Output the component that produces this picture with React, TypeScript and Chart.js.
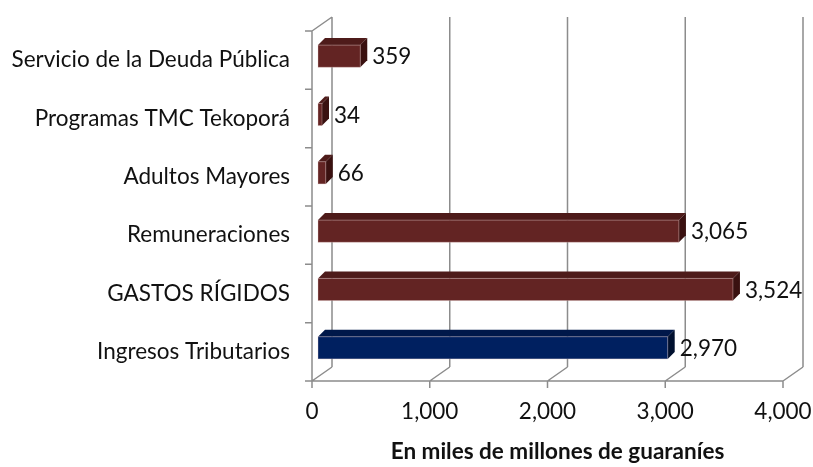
import React, { useEffect, useRef } from "react";
import { Chart, registerables } from "chart.js";

Chart.register(...registerables);

const categories = [
  "Servicio de la Deuda Pública",
  "Programas TMC Tekoporá",
  "Adultos Mayores",
  "Remuneraciones",
  "GASTOS RÍGIDOS",
  "Ingresos Tributarios",
];
const values = [359, 34, 66, 3065, 3524, 2970];
const frontColors = ["#632423", "#632423", "#632423", "#632423", "#632423", "#002060"];
const topColors = ["#4e1b1a", "#4e1b1a", "#4e1b1a", "#4e1b1a", "#4e1b1a", "#00184a"];
const sideColors = ["#3a1110", "#3a1110", "#3a1110", "#3a1110", "#3a1110", "#00102f"];
const xTicks = [0, 1000, 2000, 3000, 4000];
const axisTitle = "En miles de millones de guaraníes";

const FONT = "Lato, 'Open Sans', sans-serif";
const FONT_SIZE = 22.5;
const WALL = { dx: 20, dy: -14 };
const BAR_FRONT = { dx: 6, dy: -4 };
const BAR_DEPTH = { dx: 7, dy: -7 };
const GRID = "#8c8c8c";

const frame3d = {
  id: "frame3d",
  beforeDatasetsDraw(chart: any) {
    const { ctx, chartArea, scales } = chart;
    const xs = scales.x;
    const ys = scales.y;
    const { left, right, top, bottom } = chartArea;
    ctx.save();
    ctx.strokeStyle = GRID;
    ctx.lineWidth = 1.5;
    ctx.beginPath();
    ctx.moveTo(left, top);
    ctx.lineTo(left, bottom);
    ctx.moveTo(left, top);
    ctx.lineTo(left + WALL.dx, top + WALL.dy);
    ctx.moveTo(left, bottom);
    ctx.lineTo(right, bottom);
    xTicks.forEach((t) => {
      const px = xs.getPixelForValue(t);
      ctx.moveTo(px + WALL.dx, top + WALL.dy);
      ctx.lineTo(px + WALL.dx, bottom + WALL.dy);
      ctx.moveTo(px, bottom);
      ctx.lineTo(px + WALL.dx, bottom + WALL.dy);
      ctx.moveTo(px, bottom);
      ctx.lineTo(px, bottom + 7);
    });
    const n = categories.length;
    const step = (bottom - top) / n;
    for (let i = 0; i <= n; i++) {
      const py = ys.top + step * i;
      ctx.moveTo(left - 7, py);
      ctx.lineTo(left, py);
    }
    ctx.stroke();
    ctx.restore();
  },
  afterDatasetsDraw(chart: any) {
    const { ctx, chartArea } = chart;
    const meta = chart.getDatasetMeta(0);
    ctx.save();
    meta.data.forEach((bar: any, i: number) => {
      const p = bar.getProps(["x", "y", "base", "height"], true);
      const L = p.base + BAR_FRONT.dx;
      const R = p.x + BAR_FRONT.dx;
      const T = p.y - p.height / 2 + BAR_FRONT.dy;
      const B = p.y + p.height / 2 + BAR_FRONT.dy;
      const dx = BAR_DEPTH.dx;
      const dy = BAR_DEPTH.dy;
      ctx.fillStyle = topColors[i];
      ctx.beginPath();
      ctx.moveTo(L, T);
      ctx.lineTo(L + dx, T + dy);
      ctx.lineTo(R + dx, T + dy);
      ctx.lineTo(R, T);
      ctx.closePath();
      ctx.fill();
      ctx.fillStyle = sideColors[i];
      ctx.beginPath();
      ctx.moveTo(R, T);
      ctx.lineTo(R + dx, T + dy);
      ctx.lineTo(R + dx, B + dy);
      ctx.lineTo(R, B);
      ctx.closePath();
      ctx.fill();
      ctx.fillStyle = frontColors[i];
      ctx.fillRect(L, T, R - L, B - T);
      ctx.strokeStyle = "rgba(230,200,200,0.35)";
      ctx.lineWidth = 1;
      ctx.strokeRect(L, T, R - L, B - T);
      ctx.fillStyle = "#111";
      ctx.font = `${FONT_SIZE}px ${FONT}`;
      ctx.textAlign = "left";
      ctx.textBaseline = "middle";
      ctx.fillText(values[i].toLocaleString("en-US"), R + dx + 5, (T + B) / 2 + 1);
    });
    ctx.fillStyle = "#111";
    ctx.font = `bold ${FONT_SIZE}px ${FONT}`;
    ctx.textAlign = "center";
    ctx.textBaseline = "middle";
    ctx.fillText(axisTitle, (chartArea.left + chartArea.right + WALL.dx) / 2, 452);
    ctx.restore();
  },
};

export default function App() {
  const ref = useRef<HTMLCanvasElement | null>(null);
  useEffect(() => {
    if (!ref.current) return;
    const chart = new Chart(ref.current, {
      type: "bar",
      data: {
        labels: categories,
        datasets: [
          {
            data: values,
            backgroundColor: "rgba(0,0,0,0)",
            borderWidth: 0,
            categoryPercentage: 1,
            barPercentage: 0.38,
          },
        ],
      },
      options: {
        indexAxis: "y",
        animation: false,
        responsive: false,
        maintainAspectRatio: false,
        layout: { padding: { top: 31, right: 30, left: 0, bottom: 0 } },
        plugins: { legend: { display: false }, tooltip: { enabled: false }, title: { display: false } },
        scales: {
          x: {
            min: 0,
            max: 4000,
            afterBuildTicks: (scale: any) => {
              scale.ticks = xTicks.map((v) => ({ value: v }));
            },
            afterFit: (scale: any) => {
              scale.height = 86;
              scale.paddingLeft = 0;
              scale.paddingRight = 0;
            },
            grid: { display: false, drawTicks: false },
            border: { display: false },
            ticks: {
              color: "#111",
              font: { family: FONT, size: FONT_SIZE },
              padding: 17,
              maxRotation: 0,
              callback: (v: any) => Number(v).toLocaleString("en-US"),
            },
          },
          y: {
            afterFit: (scale: any) => {
              scale.width = 312;
              scale.paddingTop = 0;
              scale.paddingBottom = 0;
            },
            grid: { display: false, drawTicks: false },
            border: { display: false },
            ticks: {
              color: "#111",
              font: { family: FONT, size: FONT_SIZE },
              padding: 22,
            },
          },
        },
      },
      plugins: [frame3d],
    });
    return () => chart.destroy();
  }, []);
  return (
    <div style={{ position: "absolute", left: 0, top: 0, width: 813, height: 467, background: "#fff" }}>
      <canvas ref={ref} width={813} height={467} style={{ width: 813, height: 467 }} />
    </div>
  );
}
